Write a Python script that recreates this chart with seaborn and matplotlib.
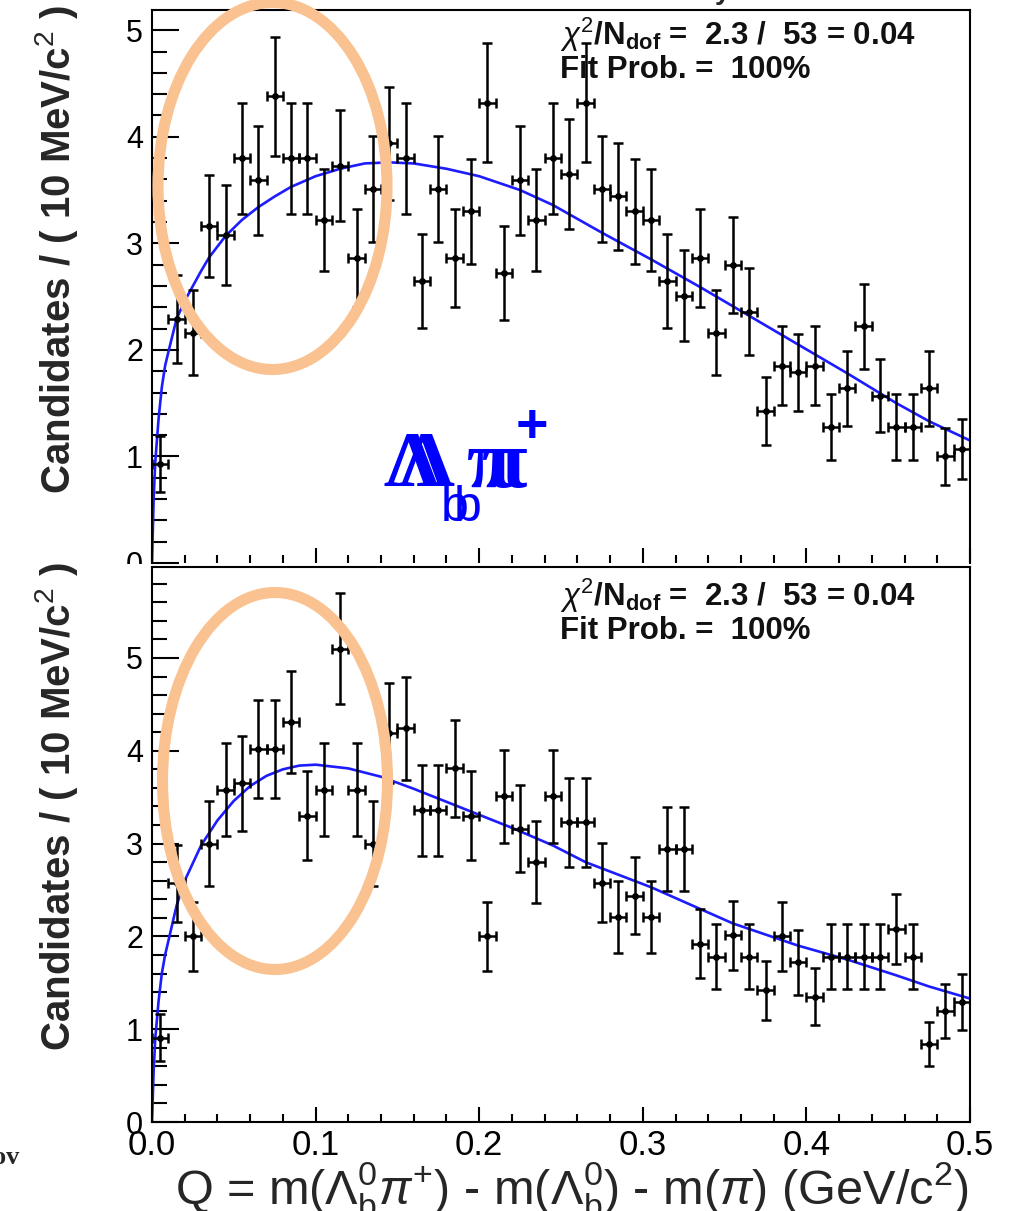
import matplotlib
matplotlib.use("Agg")
import matplotlib.pyplot as plt
import seaborn as sns
import pandas as pd
from matplotlib.patches import Ellipse, Rectangle
from matplotlib.ticker import MultipleLocator, FormatStrFormatter

# ---------------- data ----------------
q_centers = [0.005, 0.015, 0.025, 0.035, 0.045, 0.055, 0.065, 0.075, 0.085, 0.095,
             0.105, 0.115, 0.125, 0.135, 0.145, 0.155, 0.165, 0.175, 0.185, 0.195,
             0.205, 0.215, 0.225, 0.235, 0.245, 0.255, 0.265, 0.275, 0.285, 0.295,
             0.305, 0.315, 0.325, 0.335, 0.345, 0.355, 0.365, 0.375, 0.385, 0.395,
             0.405, 0.415, 0.425, 0.435, 0.445, 0.455, 0.465, 0.475, 0.485, 0.495]
q_half_width = 0.005

top_counts = [0.93, 2.29, 2.16, 3.16, 3.08, 3.80, 3.59, 4.38, 3.80, 3.80,
              3.22, 3.73, 2.86, 3.51, 3.94, 3.80, 2.65, 3.51, 2.86, 3.30,
              4.32, 2.72, 3.59, 3.22, 3.80, 3.65, 4.32, 3.51, 3.44, 3.30,
              3.22, 2.65, 2.51, 2.86, 2.16, 2.80, 2.36, 1.43, 1.85, 1.79,
              1.85, 1.28, 1.64, 2.22, 1.57, 1.28, 1.28, 1.64, 1.00, 1.07]
top_errors = [0.26, 0.41, 0.40, 0.48, 0.47, 0.52, 0.51, 0.56, 0.52, 0.52,
              0.48, 0.52, 0.46, 0.50, 0.53, 0.52, 0.44, 0.50, 0.46, 0.49,
              0.56, 0.44, 0.51, 0.48, 0.52, 0.52, 0.56, 0.50, 0.50, 0.49,
              0.48, 0.44, 0.43, 0.46, 0.40, 0.45, 0.41, 0.32, 0.37, 0.36,
              0.37, 0.31, 0.35, 0.40, 0.34, 0.31, 0.31, 0.35, 0.27, 0.28]

bot_counts = [0.91, 2.57, 2.00, 3.00, 3.58, 3.65, 4.02, 4.02, 4.31, 3.30,
              3.58, 5.10, 3.58, 3.00, 4.19, 4.24, 3.36, 3.36, 3.81, 3.30,
              2.00, 3.51, 3.16, 2.80, 3.51, 3.23, 3.23, 2.58, 2.21, 2.44,
              2.21, 2.94, 2.94, 1.92, 1.78, 2.01, 1.78, 1.42, 2.00, 1.72,
              1.35, 1.78, 1.78, 1.78, 1.78, 2.08, 1.78, 0.84, 1.20, 1.29]
bot_errors = [0.25, 0.42, 0.37, 0.46, 0.50, 0.51, 0.53, 0.53, 0.55, 0.48,
              0.50, 0.60, 0.50, 0.46, 0.54, 0.55, 0.49, 0.49, 0.52, 0.48,
              0.37, 0.50, 0.47, 0.44, 0.50, 0.48, 0.48, 0.43, 0.39, 0.41,
              0.39, 0.45, 0.45, 0.37, 0.35, 0.37, 0.35, 0.32, 0.37, 0.35,
              0.31, 0.35, 0.35, 0.35, 0.35, 0.38, 0.35, 0.24, 0.29, 0.30]

top_fit_q = [0.000, 0.001, 0.002, 0.004, 0.006, 0.008, 0.010, 0.015, 0.020, 0.025,
             0.030, 0.035, 0.045, 0.055, 0.065, 0.075, 0.085, 0.100, 0.115, 0.130,
             0.145, 0.160, 0.180, 0.200, 0.225, 0.245, 0.275, 0.305, 0.335, 0.365,
             0.395, 0.425, 0.455, 0.475, 0.500]
top_fit_y = [0.00, 0.60, 0.95, 1.35, 1.65, 1.85, 1.98, 2.29, 2.46, 2.60,
             2.74, 2.87, 3.07, 3.22, 3.34, 3.44, 3.53, 3.63, 3.70, 3.75,
             3.76, 3.75, 3.70, 3.63, 3.50, 3.36, 3.10, 2.85, 2.59, 2.32,
             2.05, 1.78, 1.50, 1.33, 1.15]

bot_fit_q = [0.000, 0.001, 0.002, 0.004, 0.006, 0.008, 0.010, 0.015, 0.020, 0.030,
             0.040, 0.050, 0.060, 0.070, 0.080, 0.090, 0.100, 0.120, 0.140, 0.160,
             0.180, 0.200, 0.220, 0.245, 0.265, 0.305, 0.355, 0.395, 0.425, 0.455,
             0.475, 0.500]
bot_fit_y = [0.00, 0.55, 0.90, 1.30, 1.60, 1.80, 1.95, 2.33, 2.60, 2.98,
             3.25, 3.46, 3.62, 3.73, 3.80, 3.84, 3.85, 3.81, 3.72, 3.59,
             3.45, 3.31, 3.17, 2.98, 2.80, 2.53, 2.14, 1.90, 1.75, 1.58,
             1.46, 1.33]

fit_text_1 = r"$\chi^{2}$/N$_{\mathbf{dof}}$ =  2.3 /  53 = 0.04"
fit_text_2 = "Fit Prob. =  100%"
y_label = "Candidates / ( 10 MeV/c$^{2}$ )"
x_label = r"Q = m($\Lambda_{\mathrm{b}}^{0}\pi^{+}$) - m($\Lambda_{\mathrm{b}}^{0}$) - m($\pi$) (GeV/c$^{2}$)"

# ---------------- style ----------------
sns.set_theme(style="white")
plt.rcParams["font.family"] = ["Liberation Sans", "DejaVu Sans"]
plt.rcParams["mathtext.fontset"] = "custom"
plt.rcParams["mathtext.rm"] = "Liberation Sans"
plt.rcParams["mathtext.it"] = "Liberation Sans:italic"
plt.rcParams["mathtext.bf"] = "Liberation Sans:bold"
plt.rcParams["mathtext.sf"] = "Liberation Sans"
plt.rcParams["axes.grid"] = False

W, H = 1010, 1211
fig = plt.figure(figsize=(W / 100, H / 100), dpi=100)
fig.patch.set_facecolor("white")


def px_rect(left, top, right, bottom):
    return [left / W, 1 - bottom / H, (right - left) / W, (bottom - top) / H]


def fx(px):
    return px / W


def fy(py):
    return 1 - py / H


ax_top = fig.add_axes(px_rect(152, 10, 970, 563))
ax_bot = fig.add_axes(px_rect(152, 567, 970, 1122))

CURVE = "#1c1cff"


def draw_panel(ax, counts, errors, fit_q, fit_y, ymax):
    df = pd.DataFrame({"Q": q_centers, "N": counts, "err": errors})
    fit = pd.DataFrame({"Q": fit_q, "y": fit_y})
    sns.lineplot(data=fit, x="Q", y="y", ax=ax, color=CURVE, linewidth=1.9,
                 estimator=None, sort=True, zorder=2)
    ax.errorbar(df["Q"], df["N"], xerr=q_half_width, yerr=df["err"], fmt="none",
                ecolor="black", elinewidth=1.8, capsize=3.8, capthick=1.8, zorder=3)
    sns.scatterplot(data=df, x="Q", y="N", ax=ax, color="black", s=24,
                    linewidth=0, zorder=4)
    ax.set_xlim(0, 0.5)
    ax.set_ylim(0, ymax)
    ax.xaxis.set_major_locator(MultipleLocator(0.1))
    ax.xaxis.set_minor_locator(MultipleLocator(0.02))
    ax.yaxis.set_major_locator(MultipleLocator(1))
    ax.yaxis.set_minor_locator(MultipleLocator(0.2))
    ax.xaxis.set_major_formatter(FormatStrFormatter("%.1f"))
    ax.yaxis.set_major_formatter(FormatStrFormatter("%d"))
    ax.tick_params(axis="y", which="major", direction="in", length=19.5, width=1.5,
                   pad=6.5, labelsize=22, left=True, right=False, colors="black")
    ax.tick_params(axis="y", which="minor", direction="in", length=10.8, width=1.5,
                   left=True, right=False, colors="black")
    ax.tick_params(axis="x", which="major", direction="in", length=11, width=1.5,
                   pad=5, labelsize=25, bottom=True, top=False, colors="black")
    ax.tick_params(axis="x", which="minor", direction="in", length=5.5, width=1.5,
                   bottom=True, top=False, colors="black")
    for s in ax.spines.values():
        s.set_linewidth(1.5)
        s.set_color("black")
    ax.set_facecolor("white")
    ax.set_xlabel("")
    ax.set_ylabel(y_label, fontsize=29, fontweight="bold", loc="top")
    ax.yaxis.set_label_coords(-0.088, 1.01)


draw_panel(ax_top, top_counts, top_errors, top_fit_q, top_fit_y, 5.19)
draw_panel(ax_bot, bot_counts, bot_errors, bot_fit_q, bot_fit_y, 5.98)

ax_top.tick_params(axis="x", which="both", labelbottom=False)
ax_top.spines["bottom"].set_visible(False)

ax_bot.set_xlabel(x_label, fontsize=35, loc="right")
ax_bot.xaxis.set_label_coords(0.998, -0.069)

# fit quality boxes
for ax, (b1, b2), (bottom_px, height_px) in ((ax_top, (45, 78), (563, 553)),
                                             (ax_bot, (606, 639), (1122, 555))):
    ax.text((560 - 152) / 818, (bottom_px - b1) / height_px, fit_text_1,
            transform=ax.transAxes, fontsize=22.5, fontweight="bold",
            va="baseline", ha="left", color="#111111")
    ax.text((560 - 152) / 818, (bottom_px - b2) / height_px, fit_text_2,
            transform=ax.transAxes, fontsize=22.5, fontweight="bold",
            va="baseline", ha="left", color="#111111")

# blue channel label (letters doubled, as in the source image)
BLUE = "#0000ff"
for dx in (0, 15):
    fig.text(fx(383 + dx), fy(485), "Λ", fontsize=57, fontweight="bold",
             family="Liberation Serif", color=BLUE, ha="left", va="baseline")
    fig.text(fx(441 + dx * 0.85), fy(521), "b", fontsize=36, color=BLUE,
             ha="left", va="baseline")
    fig.text(fx(467 + dx), fy(487), "π", fontsize=60, fontweight="bold",
             family="Liberation Serif", color=BLUE, ha="left", va="baseline")
fig.text(fx(532), fy(428), "+", fontsize=40, fontweight="bold", color=BLUE,
         ha="center", va="center")

# hide lower half of the top panel's "0" label (covered by the lower pad)
fig.add_artist(Rectangle((fx(100), fy(582)), 50 / W, 18 / H, transform=fig.transFigure,
                         facecolor="white", edgecolor="none", zorder=5))

# orange highlight ellipses
ELL = "#F9C290"
fig.add_artist(Ellipse((fx(272.5), fy(186)), 229 / W, 367 / H, transform=fig.transFigure,
                       fill=False, edgecolor=ELL, linewidth=8, zorder=10))
fig.add_artist(Ellipse((fx(275), fy(781)), 225 / W, 377 / H, transform=fig.transFigure,
                       fill=False, edgecolor=ELL, linewidth=8, zorder=10))

# cropped fragments of surrounding slide text
fig.text(fx(715), 1 + 1 / H, "y", fontsize=20, fontweight="bold", ha="left", va="baseline")
fig.text(fx(-7), fy(1164), "ov", fontsize=19, fontweight="bold", family="Liberation Serif",
         ha="left", va="baseline")

fig.savefig("out.png", dpi=100, facecolor="white")
